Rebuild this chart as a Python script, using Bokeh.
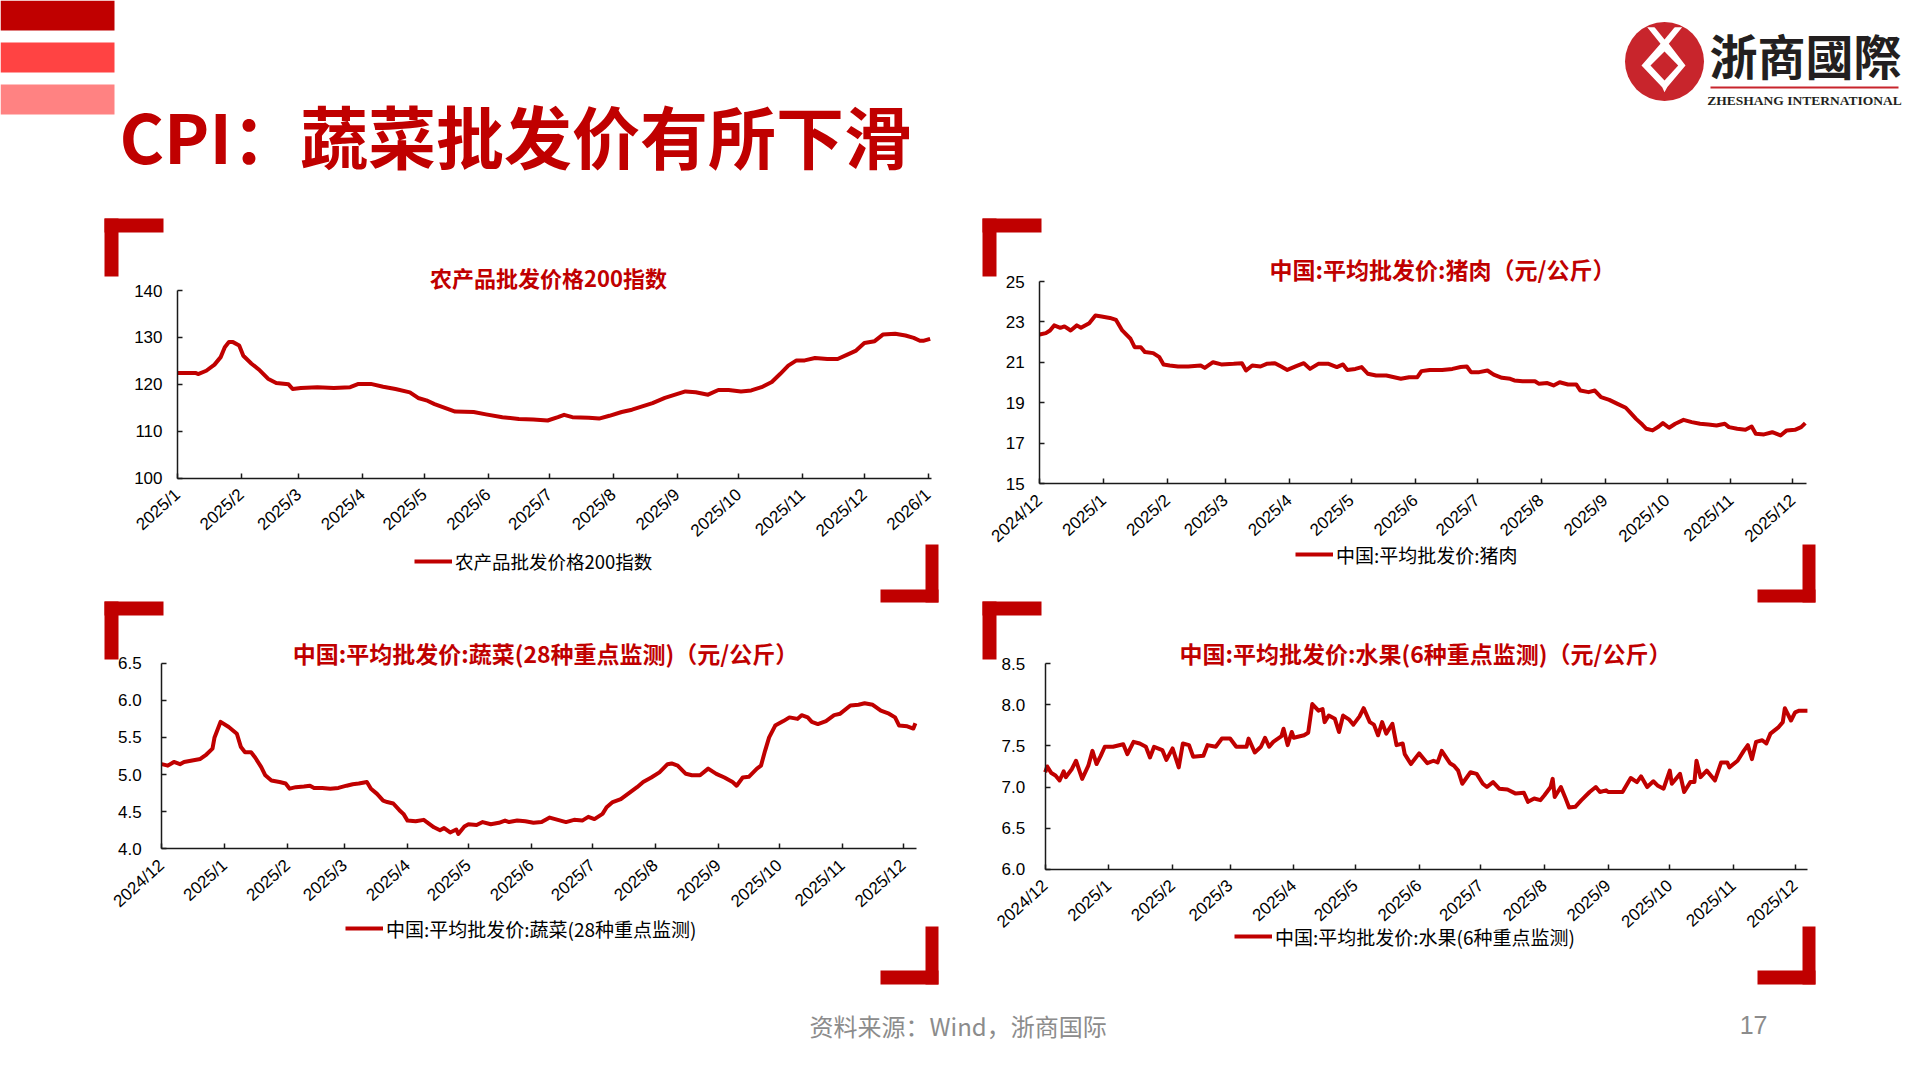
import math
import pandas as pd
from bokeh.plotting import figure
from bokeh.models import (Range1d, FixedTicker, PrintfTickFormatter, Legend, LegendItem,
                          ColumnDataSource, DatetimeAxis, LinearAxis)
from bokeh.embed import file_html
from bokeh.resources import INLINE
from bokeh.core.properties import value

RED = "#C00000"
CJK = "Noto Sans CJK SC"
NUM = "Liberation Sans"

# ---------------- page texts ----------------
page_title = "CPI：蔬菜批发价有所下滑"
logo_cn = "浙商國際"
logo_en = "ZHESHANG INTERNATIONAL"
source_note = "资料来源：Wind，浙商国际"
page_no = "17"

# ---------------- chart 1: 农产品批发价格200指数 ----------------
agri_title = "农产品批发价格200指数"
agri_legend = "农产品批发价格200指数"
agri_start = "2025-01-01"
agri_day = [0, 9, 10, 14, 18, 21, 23, 25, 27, 30, 32, 36, 40, 44, 48, 54, 56, 60, 68, 76,
            84, 88, 94, 100, 106, 113, 117, 121, 125, 130, 135, 144, 150, 158, 166, 173, 180, 185, 188, 192,
            200, 205, 210, 216, 221, 226, 231, 237, 242, 247, 252, 258, 263, 268, 274, 279, 284, 289, 293, 297,
            301, 305, 310, 316, 321, 326, 330, 334, 339, 343, 349, 354, 358, 361, 363, 366]
agri_val = [122.4, 122.4, 122.2, 122.9, 124.2, 125.8, 127.9, 129.0, 129.0, 128.3,
            126.1, 124.4, 123.0, 121.2, 120.3, 120.0, 119.0, 119.2, 119.4, 119.2,
            119.4, 120.1, 120.1, 119.5, 119.0, 118.3, 117.1, 116.6, 115.8, 115.0,
            114.2, 114.1, 113.6, 113.0, 112.6, 112.5, 112.3, 113.0, 113.5, 113.0,
            112.9, 112.7, 113.3, 114.1, 114.6, 115.3, 116.0, 117.1, 117.8, 118.5,
            118.3, 117.8, 118.8, 118.8, 118.5, 118.7, 119.4, 120.5, 122.2, 124.0,
            125.1, 125.1, 125.6, 125.4, 125.4, 126.4, 127.2, 128.8, 129.2, 130.6,
            130.8, 130.4, 129.9, 129.3, 129.3, 129.7]
agri_ticks = ["2025/1", "2025/2", "2025/3", "2025/4", "2025/5", "2025/6", "2025/7",
              "2025/8", "2025/9", "2025/10", "2025/11", "2025/12", "2026/1"]
agri_yticks = [100, 110, 120, 130, 140]

# ---------------- chart 2: 猪肉 ----------------
pork_title = "中国:平均批发价:猪肉（元/公斤）"
pork_legend = "中国:平均批发价:猪肉"
pork_start = "2024-12-01"
pork_day = [0, 3, 5, 7, 10, 12, 15, 18, 20, 24, 27, 30, 34, 37, 40, 44, 46, 49, 51, 55,
            58, 60, 63, 67, 72, 78, 80, 84, 88, 94, 98, 100, 103, 107, 110, 114, 117, 120, 124, 128,
            131, 135, 140, 144, 147, 149, 153, 156, 159, 163, 168, 175, 179, 183, 185, 189, 195, 200, 204, 207,
            209, 213, 217, 220, 224, 228, 230, 234, 240, 242, 246, 249, 252, 256, 260, 262, 266, 269, 272, 276,
            280, 284, 286, 289, 292, 294, 297, 300, 302, 305, 308, 312, 316, 320, 324, 328, 332, 334, 338, 342,
            345, 347, 351, 355, 359, 362, 366, 369, 371]
pork_val = [22.38, 22.45, 22.58, 22.83, 22.71, 22.78, 22.58, 22.83, 22.71, 22.94,
            23.32, 23.27, 23.20, 23.10, 22.58, 22.17, 21.75, 21.75, 21.51, 21.46,
            21.26, 20.90, 20.85, 20.80, 20.80, 20.85, 20.73, 21.01, 20.90, 20.93,
            20.96, 20.60, 20.85, 20.80, 20.93, 20.96, 20.80, 20.63, 20.80, 20.96,
            20.68, 20.93, 20.93, 20.77, 20.90, 20.63, 20.68, 20.77, 20.44, 20.35,
            20.35, 20.19, 20.27, 20.27, 20.57, 20.63, 20.63, 20.68, 20.77, 20.80,
            20.52, 20.52, 20.60, 20.40, 20.24, 20.19, 20.11, 20.07, 20.07, 19.94,
            19.98, 19.86, 20.02, 19.91, 19.91, 19.61, 19.53, 19.61, 19.28, 19.15,
            18.95, 18.76, 18.54, 18.21, 17.93, 17.72, 17.64, 17.83, 18.00, 17.77,
            17.97, 18.16, 18.05, 17.97, 17.93, 17.88, 17.97, 17.80, 17.72, 17.67,
            17.83, 17.47, 17.44, 17.55, 17.39, 17.64, 17.67, 17.80, 18.00]
month_ticks = ["2024/12", "2025/1", "2025/2", "2025/3", "2025/4", "2025/5", "2025/6",
               "2025/7", "2025/8", "2025/9", "2025/10", "2025/11", "2025/12"]
pork_yticks = [15, 17, 19, 21, 23, 25]

# ---------------- chart 3: 蔬菜 ----------------
veg_title = "中国:平均批发价:蔬菜(28种重点监测)（元/公斤）"
veg_legend = "中国:平均批发价:蔬菜(28种重点监测)"
veg_start = "2024-12-01"
veg_day = [0, 3, 6, 9, 11, 15, 19, 22, 25, 26, 29, 33, 37, 39, 41, 44, 46, 49, 51, 54,
           58, 61, 63, 66, 70, 73, 75, 79, 83, 87, 91, 94, 97, 101, 103, 106, 109, 111, 114, 117,
           119, 121, 125, 129, 131, 134, 137, 139, 142, 145, 146, 149, 151, 155, 158, 162, 166, 169, 171, 175,
           179, 183, 187, 191, 195, 199, 203, 207, 210, 213, 217, 219, 222, 226, 230, 234, 237, 241, 245, 249,
           251, 254, 258, 261, 265, 269, 273, 277, 281, 283, 286, 289, 293, 295, 297, 299, 302, 306, 309, 313,
           315, 318, 320, 323, 327, 331, 334, 339, 343, 346, 350, 354, 358, 361, 363, 367, 370, 371]
veg_val = [5.14, 5.12, 5.17, 5.14, 5.17, 5.19, 5.21, 5.27, 5.35, 5.50,
           5.71, 5.64, 5.55, 5.37, 5.30, 5.30, 5.23, 5.10, 4.99, 4.92,
           4.90, 4.88, 4.81, 4.83, 4.84, 4.85, 4.82, 4.82, 4.81, 4.82,
           4.85, 4.87, 4.88, 4.90, 4.81, 4.74, 4.65, 4.63, 4.61, 4.52,
           4.47, 4.38, 4.37, 4.39, 4.35, 4.29, 4.25, 4.28, 4.22, 4.26,
           4.20, 4.30, 4.33, 4.32, 4.36, 4.33, 4.35, 4.38, 4.36, 4.38,
           4.37, 4.35, 4.36, 4.42, 4.39, 4.36, 4.39, 4.38, 4.43, 4.40,
           4.47, 4.56, 4.63, 4.67, 4.75, 4.83, 4.90, 4.96, 5.03, 5.14,
           5.15, 5.12, 5.01, 4.99, 4.99, 5.08, 5.01, 4.96, 4.90, 4.85,
           4.96, 4.97, 5.08, 5.12, 5.32, 5.50, 5.66, 5.72, 5.77, 5.75,
           5.80, 5.77, 5.71, 5.68, 5.72, 5.80, 5.82, 5.93, 5.94, 5.96,
           5.94, 5.86, 5.82, 5.77, 5.66, 5.65, 5.62, 5.69]
veg_yticks = [4.0, 4.5, 5.0, 5.5, 6.0, 6.5]

# ---------------- chart 4: 水果 ----------------
fruit_title = "中国:平均批发价:水果(6种重点监测)（元/公斤）"
fruit_legend = "中国:平均批发价:水果(6种重点监测)"
fruit_start = "2024-12-01"
fruit_day = [0, 1, 3, 5, 7, 9, 10, 13, 15, 18, 21, 23, 25, 27, 29, 33, 38, 40, 43, 46,
             49, 51, 53, 57, 59, 62, 65, 67, 70, 72, 77, 79, 83, 86, 90, 93, 98, 99, 102, 105,
             107, 109, 111, 115, 116, 118, 120, 121, 126, 128, 130, 133, 135, 136, 138, 141, 143, 145, 148, 150,
             153, 155, 158, 160, 162, 164, 166, 169, 171, 174, 175, 178, 182, 186, 189, 191, 193, 197, 199, 201,
             203, 207, 210, 213, 215, 218, 221, 225, 229, 233, 235, 238, 241, 243, 246, 247, 248, 251, 253, 255,
             258, 261, 265, 268, 270, 273, 274, 281, 285, 288, 290, 293, 296, 298, 301, 304, 305, 309, 311, 314,
             316, 317, 319, 322, 326, 329, 332, 333, 337, 340, 342, 344, 346, 349, 351, 353, 357, 359, 360, 363,
             365, 367, 371]
fruit_val = [7.18, 7.25, 7.17, 7.14, 7.08, 7.19, 7.12, 7.22, 7.32, 7.10,
             7.26, 7.44, 7.28, 7.38, 7.49, 7.49, 7.52, 7.40, 7.55, 7.53,
             7.49, 7.36, 7.49, 7.45, 7.33, 7.47, 7.24, 7.53, 7.51, 7.37,
             7.38, 7.51, 7.49, 7.59, 7.59, 7.49, 7.49, 7.59, 7.42, 7.49,
             7.60, 7.49, 7.55, 7.62, 7.71, 7.51, 7.67, 7.60, 7.63, 7.66,
             8.01, 7.93, 7.95, 7.79, 7.87, 7.83, 7.67, 7.87, 7.82, 7.76,
             7.86, 7.96, 7.79, 7.76, 7.63, 7.79, 7.65, 7.77, 7.51, 7.53,
             7.40, 7.28, 7.41, 7.29, 7.32, 7.30, 7.44, 7.29, 7.26, 7.20,
             7.04, 7.18, 7.16, 7.04, 7.00, 7.06, 6.98, 6.97, 6.92, 6.93,
             6.82, 6.86, 6.84, 6.90, 7.00, 7.10, 6.88, 7.00, 6.88, 6.75,
             6.76, 6.84, 6.94, 7.00, 6.94, 6.96, 6.94, 6.94, 7.11, 7.06,
             7.13, 7.00, 7.07, 7.02, 6.98, 7.20, 7.04, 7.16, 6.94, 7.06,
             7.06, 7.32, 7.12, 7.20, 7.08, 7.30, 7.30, 7.24, 7.32, 7.44,
             7.51, 7.34, 7.55, 7.57, 7.53, 7.65, 7.73, 7.79, 7.96, 7.81,
             7.91, 7.93, 7.93]
fruit_yticks = [6.0, 6.5, 7.0, 7.5, 8.0, 8.5]

# ---------------- canvas (page pixel coordinates, y downward) ----------------
W, H = 1904, 1064
p = figure(width=W, height=H, x_range=Range1d(0, W), y_range=Range1d(H, 0),
           output_backend="svg", toolbar_location=None, x_axis_type=None, y_axis_type=None,
           min_border=0)
p.outline_line_color = None
p.background_fill_color = "white"
p.border_fill_color = "white"


def ms(s):
    return pd.Timestamp(s).value / 1e6


def lin_range(va, pa, vb, pb, p_start, p_end):
    k = (vb - va) / (pb - pa)
    return Range1d(start=va + (p_start - pa) * k, end=va + (p_end - pa) * k)


xr, yr = {}, {}
legends = []


def add_chart(name, start, days, vals, x_cal, x_end_px, y_cal, yticks, yfmt, tick_labels,
              title, title_xy, title_size, legend_label, legend_xy, legend_size, brackets, ylab_standoff):
    (da, pa), (db, pb) = x_cal
    ta, tb = ms(da), ms(db)
    k = (tb - ta) / (pb - pa)
    t_end = ta + (x_end_px - pa) * k
    xr[name + "x"] = lin_range(ta, pa, tb, pb, 0, W)
    (va, qa), (vb, qb) = y_cal
    yr[name + "y"] = lin_range(va, qa, vb, qb, H, 0)
    y_lo, y_hi = min(yticks), max(yticks)

    # corner brackets
    for (x0, y0, x1, y1) in brackets:
        p.quad(left=[x0], right=[x1], top=[y0], bottom=[y1], fill_color=RED, line_color=None)

    xs = pd.Timestamp(start) + pd.to_timedelta(days, unit="D")
    src = ColumnDataSource(dict(x=xs, y=vals))
    r = p.line("x", "y", source=src, line_color=RED, line_width=4, line_join="round",
               x_range_name=name + "x", y_range_name=name + "y")

    tick_ms = [ms(t.replace("/", "-") + "-01") for t in tick_labels]
    xa = DatetimeAxis(x_range_name=name + "x", y_range_name=name + "y", fixed_location=y_lo,
                      bounds=(ta, t_end), ticker=FixedTicker(ticks=tick_ms),
                      major_label_overrides={m: t for m, t in zip(tick_ms, tick_labels)},
                      major_label_orientation=math.radians(42), major_label_standoff=14)
    ya = LinearAxis(x_range_name=name + "x", y_range_name=name + "y", fixed_location=ta,
                    bounds=(y_lo, y_hi), ticker=FixedTicker(ticks=yticks),
                    formatter=PrintfTickFormatter(format=yfmt), major_label_standoff=ylab_standoff)
    for ax in (xa, ya):
        ax.axis_line_color = "#1a1a1a"
        ax.axis_line_width = 1.5
        ax.major_tick_in = 5
        ax.major_tick_out = 0
        ax.major_tick_line_color = "#1a1a1a"
        ax.major_tick_line_width = 1.5
        ax.minor_tick_line_color = None
        ax.major_label_text_font = NUM
        ax.major_label_text_color = "#000000"
    xa.major_label_text_font_size = "17px"
    ya.major_label_text_font_size = "17px"
    p.add_layout(xa, "below")
    p.add_layout(ya, "left")

    tx, ty = title_xy
    p.text(x=[tx], y=[ty], text=[title], text_font=value(CJK), text_font_size=title_size,
           text_font_style="bold", text_color=RED, text_align="center", text_baseline="middle")

    lx, ly = legend_xy
    legends.append(Legend(items=[LegendItem(label=value(legend_label), renderers=[r])],
                          location=(lx, H - ly - 13), orientation="horizontal",
                          glyph_width=38, glyph_height=20, label_standoff=3, padding=0, margin=0,
                          spacing=0, border_line_color=None, background_fill_alpha=0,
                          label_text_font=CJK, label_text_font_size=legend_size,
                          label_text_color="#000000"))


# ---------------- header ----------------
p.quad(left=[0, 0, 0], right=[114, 114, 114], top=[0, 42, 84], bottom=[30, 72, 114],
       fill_color=["#C00000", "#FF4343", "#FF8282"], line_color=None)
p.text(x=[119], y=[134], text=[page_title], text_font=value(CJK), text_font_size="68px",
       text_font_style="bold", text_color=RED, text_align="left", text_baseline="middle")
# logo
p.circle(x=[1664], y=[61], radius=39.5, fill_color="#C8252C", line_color=None)
p.patch([1646.7, 1681.7, 1668.3, 1685, 1666.7, 1664, 1661.7, 1641, 1660],
        [26.7, 26.7, 43.3, 65, 86.7, 91.7, 86.7, 65, 43.3], fill_color="white", line_color=None)
p.patch([1653.3, 1675, 1664], [25.7, 25.7, 39], fill_color="#C8252C", line_color=None)
p.patch([1664, 1677.7, 1664, 1650], [51, 65, 80, 65], fill_color="#C8252C", line_color=None)
p.text(x=[1805], y=[53], text=[logo_cn], text_font=value("Noto Sans CJK TC"), text_font_size="48px",
       text_font_style="bold", text_color="#231F20", text_align="center", text_baseline="middle")
p.quad(left=[1710], right=[1898], top=[86], bottom=[88], fill_color="#C8252C", line_color=None)
p.text(x=[1804], y=[99.5], text=[logo_en], text_font=value("Liberation Serif"), text_font_size="13.5px",
       text_font_style="bold", text_color="#231F20", text_align="center", text_baseline="middle")

# ---------------- charts ----------------
add_chart("a", agri_start, agri_day, agri_val,
          (("2025-01-01", 177.0), ("2026-01-01", 927.6)), 930.9,
          ((140, 290.0), (100, 477.7)), agri_yticks, "%d", agri_ticks,
          agri_title, (548, 276), "22px", agri_legend, (414, 561), "18.5px",
          [(104, 218, 163, 232), (104, 218, 118, 276), (880, 589, 938, 602), (925, 544, 938, 602)], 15)
add_chart("p", pork_start, pork_day, pork_val,
          (("2024-12-01", 1039.2), ("2025-12-01", 1792.4)), 1805.6,
          ((25, 281.0), (15, 483.3)), pork_yticks, "%d", month_ticks,
          pork_title, (1442, 268), "23px", pork_legend, (1295, 554.5), "19px",
          [(982, 218, 1041, 232), (982, 218, 996, 276), (1757, 589, 1815, 602), (1802, 544, 1815, 602)], 15)
add_chart("v", veg_start, veg_day, veg_val,
          (("2024-12-01", 161.2), ("2025-12-01", 902.7)), 915.7,
          ((6.5, 662.7), (4.0, 848.3)), veg_yticks, "%.1f", month_ticks,
          veg_title, (545, 652), "23px", veg_legend, (345, 928.5), "19px",
          [(104, 601, 163, 615), (104, 601, 118, 659), (880, 970, 938, 984), (925, 926, 938, 984)], 20)
add_chart("f", fruit_start, fruit_day, fruit_val,
          (("2024-12-01", 1044.7), ("2025-12-01", 1794.6)), 1806.7,
          ((8.5, 663.3), (6.0, 868.7)), fruit_yticks, "%.1f", month_ticks,
          fruit_title, (1425, 652), "23px", fruit_legend, (1234, 936.5), "19px",
          [(982, 601, 1041, 615), (982, 601, 996, 659), (1757, 970, 1815, 984), (1802, 926, 1815, 984)], 20)

p.extra_x_ranges = xr
p.extra_y_ranges = yr
for lg in legends:
    p.add_layout(lg)

# ---------------- footer ----------------
p.text(x=[809], y=[1024.5], text=[source_note], text_font=value(CJK), text_font_size="24px",
       text_color="#8C8C8C", text_align="left", text_baseline="middle")
p.text(x=[1767], y=[1024.5], text=[page_no], text_font=value(NUM), text_font_size="25px",
       text_color="#8C8C8C", text_align="right", text_baseline="middle")

open("out.html", "w").write(file_html(p, INLINE))
